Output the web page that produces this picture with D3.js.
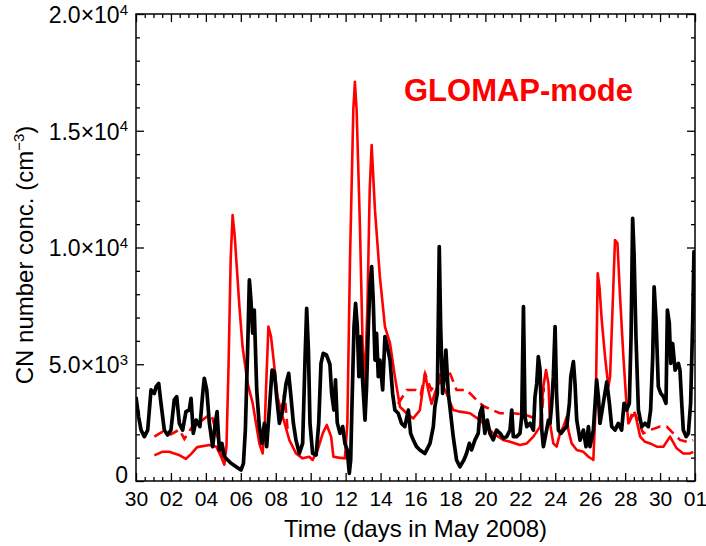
<!DOCTYPE html>
<html>
<head>
<meta charset="utf-8">
<script src="https://cdn.jsdelivr.net/npm/d3@7"></script>
<style>
  html, body { margin: 0; padding: 0; background: #fff; }
  svg { display: block; }
  text { font-family: "Liberation Sans", Arial, sans-serif; fill: #000; }
</style>
</head>
<body>
<div id="chart"></div>
<script>
// ---- data (days since 30 April 2008, 00:00) ----
const obsDays = [0,0.15,0.29,0.48,0.67,0.86,1.05,1.15,1.30,1.43,1.62,1.81,2.00,2.19,2.33,2.48,2.67,2.86,3.05,3.15,3.28,3.44,3.66,3.82,3.91,4.05,4.20,4.39,4.54,4.64,4.77,4.92,5.06,5.25,5.44,5.73,6.01,6.15,6.26,6.39,6.49,6.58,6.68,6.77,6.91,7.06,7.21,7.35,7.48,7.63,7.79,7.92,8.05,8.21,8.40,8.59,8.74,8.87,9.01,9.16,9.35,9.54,9.68,9.77,9.87,9.96,10.11,10.31,10.46,10.59,10.72,10.90,11.10,11.20,11.33,11.42,11.52,11.68,11.83,11.96,12.09,12.21,12.29,12.38,12.48,12.57,12.67,12.76,12.86,12.97,13.11,13.20,13.30,13.39,13.49,13.58,13.68,13.77,13.87,13.96,14.12,14.25,14.35,14.54,14.69,14.82,15.01,15.20,15.39,15.59,15.72,15.87,16.06,16.25,16.54,16.83,17.02,17.11,17.25,17.36,17.44,17.55,17.65,17.74,17.88,18.01,18.16,18.35,18.54,18.77,18.92,19.08,19.21,19.40,19.59,19.69,19.82,19.97,20.11,20.26,20.45,20.64,20.84,21.03,21.22,21.41,21.51,21.60,21.79,21.98,22.08,22.18,22.27,22.37,22.56,22.75,22.84,22.94,23.03,23.13,23.23,23.32,23.47,23.61,23.70,23.80,23.89,23.99,24.08,24.18,24.33,24.47,24.66,24.81,24.89,25.04,25.13,25.23,25.42,25.61,25.76,25.90,25.99,26.18,26.37,26.47,26.56,26.75,26.95,27.10,27.23,27.42,27.61,27.80,27.94,28.09,28.24,28.34,28.43,28.51,28.62,28.76,28.95,29.14,29.33,29.46,29.58,29.66,29.77,29.90,30.04,30.19,30.34,30.42,30.53,30.61,30.72,30.86,31.05,31.14,31.24,31.33,31.49,31.62,31.75,31.87,31.94,32.0];
const obsValues = [3600,2750,2180,1900,2180,3900,3750,4040,4180,3330,2180,1970,2180,3470,3610,2470,2180,2970,3040,3540,2040,2610,2330,3750,4400,3900,2470,1470,2470,2970,1330,1610,1040,900,760,614,470,760,2180,5610,8610,7750,6330,7320,3900,2330,1610,2470,1470,3040,4750,4680,3610,2470,3040,4180,4610,3610,2470,1750,1180,1610,5320,7390,5610,2470,1180,1110,2470,5040,5470,5400,5000,3750,3040,4330,2500,2040,2330,1610,1330,330,900,3750,6610,7610,6610,4470,6180,4330,2610,4050,6610,8320,9180,7750,5180,6320,4470,5180,3900,6180,5900,5180,3750,3040,2900,2470,2330,3040,2040,1760,1470,1330,1180,1610,2330,3180,3750,10040,6610,3750,4470,5610,3750,2900,1900,900,610,900,1180,1610,1330,1750,2040,2900,3180,2040,2610,2040,1760,2180,2040,1830,1900,2180,3040,1900,1900,2040,2750,7470,2750,2330,2470,2180,3610,4180,5330,4750,2180,1470,2040,2610,2470,3330,4470,6610,3610,2180,2040,2180,2330,3330,4470,5110,4180,2610,1750,2180,1470,2330,1470,2180,4330,3610,2470,3330,4250,3330,2330,2180,2470,2180,3330,3040,3330,6180,11250,9750,6180,3040,2330,2470,2330,3040,5330,8320,6900,4040,3750,3610,3330,7320,6750,5040,5890,4750,5040,4750,3330,2180,1900,2040,3330,6900,9820,9800];

const modelDays = [1.05,1.5,1.9,2.5,2.86,3.15,3.5,4.2,4.6,4.87,5.06,5.18,5.3,5.42,5.53,5.65,5.73,5.92,6.1,6.39,6.68,6.87,7.06,7.25,7.38,7.44,7.58,7.73,7.92,8.1,8.4,8.78,9.16,9.54,9.92,10.11,10.4,10.69,10.92,11.17,11.3,11.6,11.96,12.1,12.25,12.44,12.53,12.63,12.82,12.97,13.1,13.25,13.38,13.49,13.68,13.96,14.25,14.54,14.82,15.11,15.49,15.87,16.25,16.54,16.73,16.92,17.1,17.4,17.78,18.16,18.55,19.12,19.69,20.07,20.45,21.02,21.41,21.98,22.37,22.75,23.13,23.32,23.47,23.61,23.7,23.89,24.08,24.27,24.47,24.66,24.75,24.94,25.23,25.61,25.9,26.18,26.32,26.43,26.53,26.66,26.85,27.04,27.14,27.29,27.42,27.56,27.71,27.9,28.05,28.19,28.38,28.57,28.86,29.14,29.43,29.81,30.19,30.57,30.95,31.33,31.72,31.9];
const modelValues = [1100,1250,1250,1100,950,1150,1450,1540,1470,1040,700,1500,5000,9500,11390,10500,9600,7470,5750,4180,3330,2470,1610,1180,2500,3900,6610,6180,4900,3610,2750,1750,1180,970,1040,900,1330,2040,2400,1900,1040,1000,970,2500,9460,15890,17100,15890,10890,5900,4200,7500,12500,14390,11600,8750,6610,5900,4470,3180,2900,2680,3030,4610,3900,3300,3750,4330,3750,3040,2970,2900,2610,2330,2040,1760,1680,1540,1610,1900,2330,4040,4750,4180,2470,1610,1470,2040,2330,2760,2180,1610,1330,1250,1040,900,3330,8890,8320,6900,5330,4040,4470,7610,10320,10180,7890,5330,3610,2470,2750,2900,1900,1680,1610,1470,1470,1900,1400,1180,1180,1250];

// second model run (dashed); null = hidden under the solid line
const dashDays = [1.05,1.5,2.0,2.48,2.77,3.2,3.8,4.3,4.7,4.98,5.1,5.2, 8.3,8.5,8.7,8.8, 15.0,15.5,16.0,16.3,16.55,16.9,17.3,17.6,17.98,18.35,18.92,19.5,19.9,20.83,21.6,22.2,22.8,23.2,23.35,23.4, 28.2,28.47,29.04,29.5,30.0,30.38,30.76,31.14,31.53,31.9];
const dashValues = [1900,2100,2000,2200,1800,2300,2600,2900,1800,800,900,null, 2900,3800,2000,null, 3300,3900,3900,3700,4600,3900,4300,5040,4600,3900,3900,3470,3200,2900,2900,2850,2700,2500,4000,null, 2470,3040,2040,2200,2330,2330,2040,1760,1680,1750];

const xTickDays = [0,2,4,6,8,10,12,14,16,18,20,22,24,26,28,30,32];
const xTickLabels = ["30","02","04","06","08","10","12","14","16","18","20","22","24","26","28","30","01"];
const yTickValues = [0,5000,10000,15000,20000];
const yTickMantissa = ["0","5.0","1.0","1.5","2.0"];
const yTickExponent = [null,"3","4","4","4"];

// ---- layout ----
const W = 706, H = 546;
const L = 136, R = 695, T = 14, B = 481;

const svg = d3.select("#chart").append("svg").attr("width", W).attr("height", H);

const x = d3.scaleLinear().domain([0, 32]).range([L, R]);
const y = d3.scaleLinear().domain([0, 20000]).range([B, T]);

svg.append("defs").append("clipPath").attr("id", "clip")
  .append("rect").attr("x", L).attr("y", T).attr("width", R - L).attr("height", B - T);

const plot = svg.append("g").attr("clip-path", "url(#clip)");

const lineGen = (days) => d3.line()
  .defined((d) => d != null)
  .x((d, i) => x(days[i]))
  .y((d) => y(d));

plot.append("path").datum(modelValues)
  .attr("d", lineGen(modelDays))
  .attr("fill", "none").attr("stroke", "#ff0000").attr("stroke-width", 2.6)
  .attr("stroke-linejoin", "round");

plot.append("path").datum(dashValues)
  .attr("d", lineGen(dashDays))
  .attr("fill", "none").attr("stroke", "#ff0000").attr("stroke-width", 2.6)
  .attr("stroke-dasharray", "10,6");

plot.append("path").datum(obsValues)
  .attr("d", lineGen(obsDays))
  .attr("fill", "none").attr("stroke", "#000").attr("stroke-width", 3.7)
  .attr("stroke-linejoin", "round");

// ---- axes ----
const minorX = d3.range(0, 32.01, 0.5).filter(d => d % 2 !== 0);
const minorY = d3.range(0, 20001, 1000).filter(d => d % 5000 !== 0);

function styleAxis(g) {
  g.select(".domain").remove();
  g.selectAll("line").attr("stroke", "#000").attr("stroke-width", 1.3);
}

// bottom
svg.append("g").attr("transform", `translate(0,${B})`)
  .call(d3.axisBottom(x).tickValues(xTickDays).tickSizeInner(-8).tickSizeOuter(0).tickPadding(10)
    .tickFormat((d, i) => xTickLabels[i]))
  .call(styleAxis)
  .call(g => g.selectAll("text").attr("font-size", 21).attr("font-family", "Liberation Sans, Arial, sans-serif"));
svg.append("g").attr("transform", `translate(0,${B})`)
  .call(d3.axisBottom(x).tickValues(minorX).tickSizeInner(-4).tickSizeOuter(0).tickFormat(""))
  .call(styleAxis);
// top
svg.append("g").attr("transform", `translate(0,${T})`)
  .call(d3.axisTop(x).tickValues(xTickDays).tickSizeInner(-8).tickSizeOuter(0).tickFormat(""))
  .call(styleAxis);
svg.append("g").attr("transform", `translate(0,${T})`)
  .call(d3.axisTop(x).tickValues(minorX).tickSizeInner(-4).tickSizeOuter(0).tickFormat(""))
  .call(styleAxis);
// left
const leftAxis = svg.append("g").attr("transform", `translate(${L},0)`)
  .call(d3.axisLeft(y).tickValues(yTickValues).tickSizeInner(-8).tickSizeOuter(0).tickPadding(8)
    .tickFormat(""))
  .call(styleAxis);
leftAxis.selectAll(".tick").each(function(d, i) {
  const t = d3.select(this).select("text")
    .attr("font-size", 23).attr("font-family", "Liberation Sans, Arial, sans-serif")
    .attr("dy", i === 0 ? "0.05em" : "0.36em");
  t.text(null);
  if (yTickExponent[i] == null) {
    t.append("tspan").text(yTickMantissa[i]);
  } else {
    t.append("tspan").text(yTickMantissa[i] + "\u00d710");
    t.append("tspan").attr("font-size", 15).attr("dy", "-0.55em").text(yTickExponent[i]);
  }
});
svg.append("g").attr("transform", `translate(${L},0)`)
  .call(d3.axisLeft(y).tickValues(minorY).tickSizeInner(-4).tickSizeOuter(0).tickFormat(""))
  .call(styleAxis);
// right
svg.append("g").attr("transform", `translate(${R},0)`)
  .call(d3.axisRight(y).tickValues(yTickValues).tickSizeInner(-8).tickSizeOuter(0).tickFormat(""))
  .call(styleAxis);
svg.append("g").attr("transform", `translate(${R},0)`)
  .call(d3.axisRight(y).tickValues(minorY).tickSizeInner(-4).tickSizeOuter(0).tickFormat(""))
  .call(styleAxis);

// frame
svg.append("rect").attr("x", L).attr("y", T).attr("width", R - L).attr("height", B - T)
  .attr("fill", "none").attr("stroke", "#000").attr("stroke-width", 1.5);

// axis titles
svg.append("text")
  .attr("x", (L + R) / 2).attr("y", 537)
  .attr("text-anchor", "middle").attr("font-size", 24)
  .text("Time (days in May 2008)");

const yl = svg.append("text")
  .attr("transform", `translate(33,${255}) rotate(-90)`)
  .attr("text-anchor", "middle").attr("font-size", 24);
yl.append("tspan").text("CN number conc. (cm");
yl.append("tspan").attr("font-size", 15).attr("dy", "-0.6em").text("\u22123");
yl.append("tspan").attr("dy", "0.38em").text(")");

// model label
svg.append("text")
  .attr("x", 404).attr("y", 101)
  .attr("font-size", 31).attr("font-weight", "bold").style("fill", "#ff0000")
  .text("GLOMAP-mode");
</script>
</body>
</html>
